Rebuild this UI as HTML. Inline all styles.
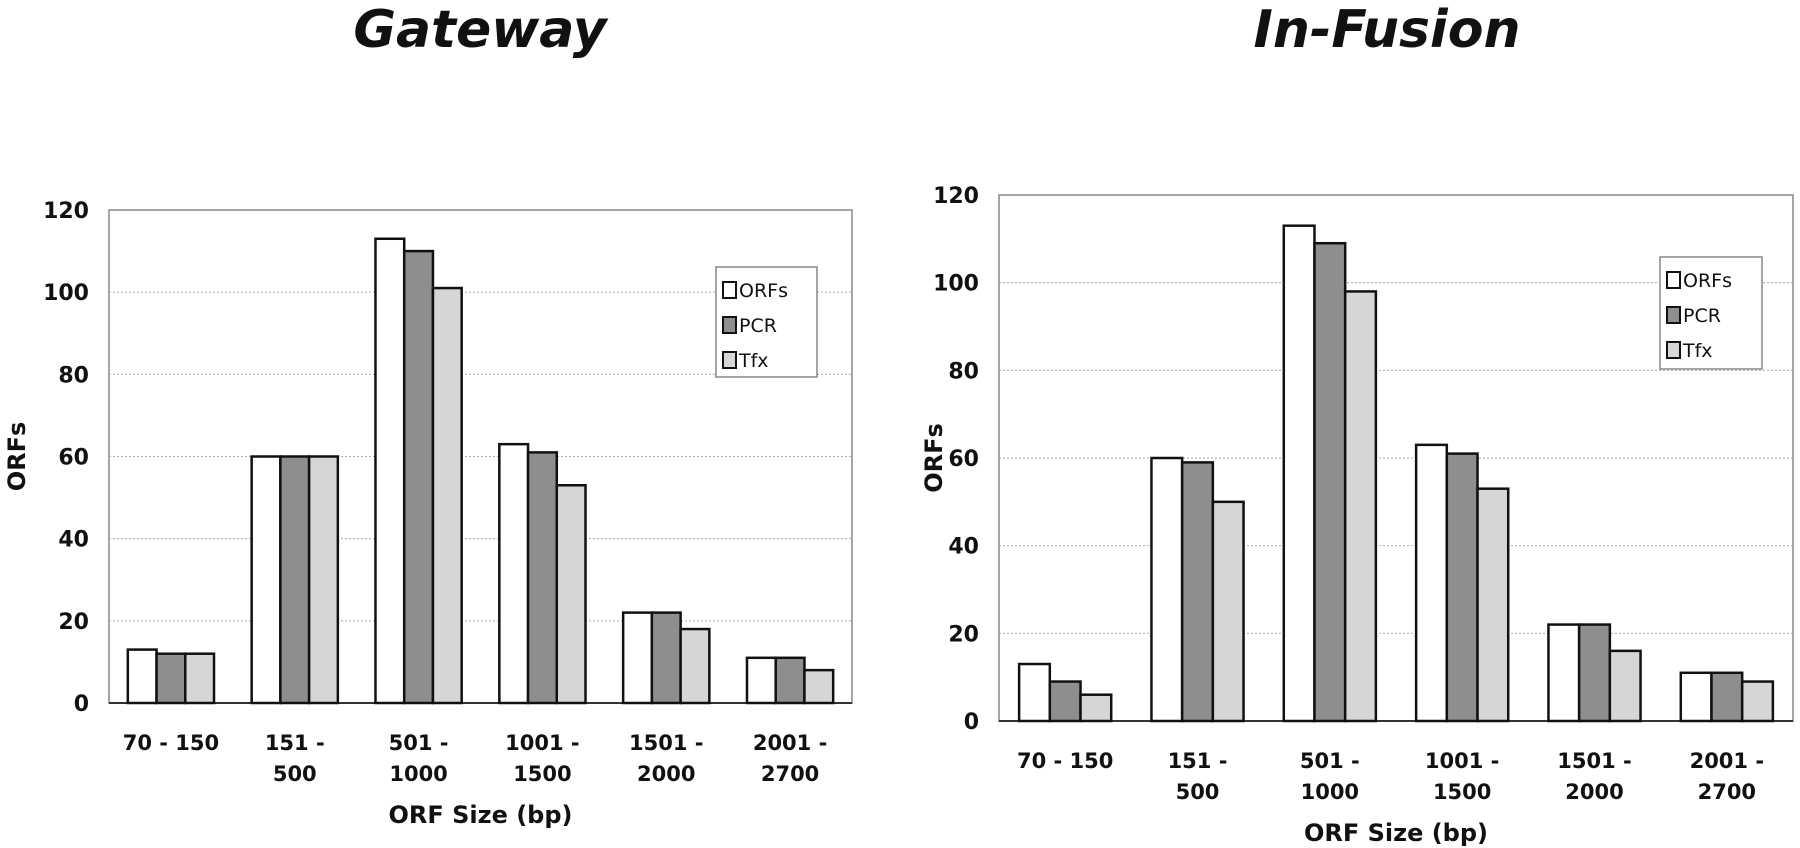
<!DOCTYPE html>
<html><head><meta charset="utf-8"><style>
body{margin:0;background:#fff;width:1800px;height:848px;overflow:hidden}
svg{display:block}
text{font-family:"DejaVu Sans","Liberation Sans",sans-serif;fill:#111}
</style></head><body>
<svg id="s" width="1800" height="848"></svg>
<script>
const categoriesL1=["70 - 150","151 -","501 -","1001 -","1501 -","2001 -"];
const categoriesL2=["","500","1000","1500","2000","2700"];
const seriesNames=["ORFs","PCR","Tfx"];
const gwOrfs=[13,60,113,63,22,11];
const gwPcr=[12,60,110,61,22,11];
const gwTfx=[12,60,101,53,18,8];
const ifOrfs=[13,60,113,63,22,11];
const ifPcr=[9,59,109,61,22,11];
const ifTfx=[6,50,98,53,16,9];
const yTicks=[0,20,40,60,80,100,120];
const fills=["#ffffff","#8e8e8e","#d6d6d6"];
const NS="http://www.w3.org/2000/svg";
const svg=document.getElementById('s');
function el(t,a,p){const e=document.createElementNS(NS,t);for(const k in a)e.setAttribute(k,a[k]);(p||svg).appendChild(e);return e;}
function chart(cfg){
  const g=el('g',{});
  
  
  const {x0,x1,y0,y1}=cfg;
  const y=v=>y1-(v/120)*(y1-y0);
  const cw=(x1-x0)/6;
  const t=el('text',{x:cfg.titleX,y:cfg.titleY,'text-anchor':'middle','font-size':52,'font-style':'italic','font-weight':'bold'},g);
  t.textContent=cfg.title;
  
  
  el('rect',{x:x0,y:y0,width:x1-x0,height:y1-y0,fill:'none',stroke:'#888','stroke-width':1.5},g);
  yTicks.forEach(v=>{
    if(v>0&&v<120){const gl=el('line',{x1:x0,x2:x1,y1:y(v),y2:y(v),stroke:'#aaa','stroke-width':1,'stroke-dasharray':'2,2'},g);
    
    }
    const tl=el('text',{x:x0-20,y:y(v)+8,'text-anchor':'end','font-size':22,'font-weight':'bold'},g);
    tl.textContent=v;
    
    
  });
  el('line',{x1:x0,x2:x1,y1:y1,y2:y1,stroke:'#333','stroke-width':2},g);
  const yt=el('text',{x:0,y:0,'text-anchor':'middle','font-size':24,'font-weight':'bold',transform:`translate(${cfg.yTitleX},${(y0+y1)/2}) rotate(-90)`},g);
  yt.textContent='ORFs';
  
  
  const bw=cw*0.232;
  cfg.data.forEach((arr,si)=>{
    arr.forEach((v,ci)=>{
      const bx=x0+ci*cw+cw/2-1.5*bw+si*bw;
      const r=el('rect',{x:bx,y:y(v),width:bw,height:y1-y(v),fill:fills[si],stroke:'#111','stroke-width':2.5},g);
      
      
    });
  });
  categoriesL1.forEach((c,ci)=>{
    const cx=x0+ci*cw+cw/2;
    const a=el('text',{x:cx,y:cfg.xlY,'text-anchor':'middle','font-size':21,'font-weight':'bold'},g);
    a.textContent=c;
    
    
    const b=el('text',{x:cx,y:cfg.xlY+31,'text-anchor':'middle','font-size':21,'font-weight':'bold'},g);
    b.textContent=categoriesL2[ci];
    
    
  });
  const xt=el('text',{x:(x0+x1)/2,y:cfg.xTitleY,'text-anchor':'middle','font-size':24,'font-weight':'bold'},g);
  xt.textContent='ORF Size (bp)';
  
  
  const L=cfg.leg;
  const lg=el('g',{},g);
  
  
  el('rect',{x:L.x,y:L.y,width:L.w,height:L.h,fill:'#fff',stroke:'#888','stroke-width':1.5},lg);
  seriesNames.forEach((n,i)=>{
    const ey=L.y+15+i*35;
    const e=el('g',{},lg);
    
    
    el('rect',{x:L.x+7,y:ey,width:13,height:16,fill:fills[i],stroke:'#111','stroke-width':2},e);
    const tx=el('text',{x:L.x+23,y:ey+15,'font-size':19},e);
    tx.textContent=n;
  });
}
chart({name:'gateway-chart',title:'Gateway',titleX:480,titleY:47,x0:109,x1:852,y0:210,y1:703,yTitleX:25,xlY:750,xTitleY:823,
  data:[gwOrfs,gwPcr,gwTfx],leg:{x:716,y:267,w:101,h:110}});
chart({name:'infusion-chart',title:'In-Fusion',titleX:1387,titleY:47,x0:999,x1:1793,y0:195,y1:721,yTitleX:942,xlY:768,xTitleY:841,
  data:[ifOrfs,ifPcr,ifTfx],leg:{x:1660,y:257,w:102,h:112}});
</script>
</body></html>
